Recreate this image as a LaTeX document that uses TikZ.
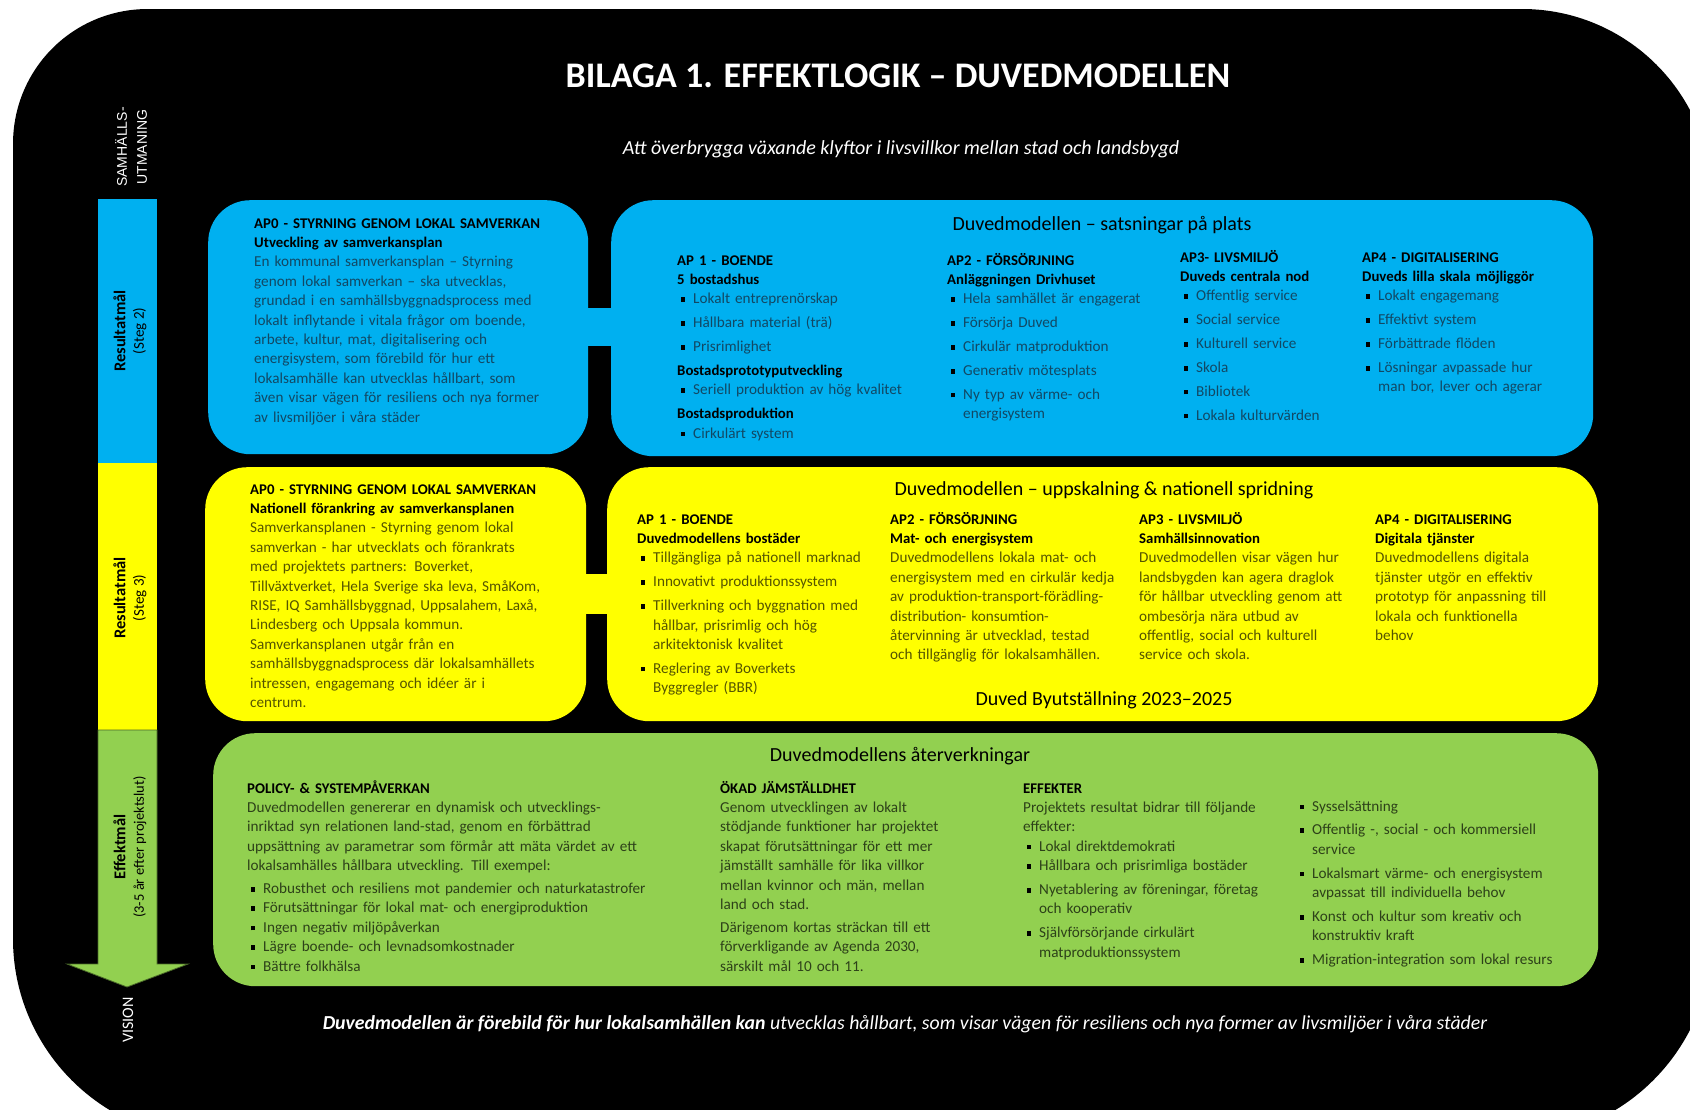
\documentclass[tikz,border=0pt]{standalone}
\usepackage{fontspec}
\setmainfont{Carlito}
\newfontfamily\widefont{Liberation Sans}
\usetikzlibrary{positioning}
\definecolor{apblue}{RGB}{0,176,240}
\definecolor{apyellow}{RGB}{255,255,0}
\definecolor{apgreen}{RGB}{146,208,80}
\definecolor{txtblue}{RGB}{18,72,100}
\definecolor{txtyellow}{RGB}{85,85,0}
\definecolor{txtgreen}{RGB}{45,65,25}
\newlength{\bli}\setlength{\bli}{16pt}
\newlength{\blsep}\setlength{\blsep}{4.5pt}
\newcommand{\hd}[1]{{\bfseries\fontsize{14.8}{19.4}\selectfont\color{black}#1}\par}
\newcommand{\bl}[2][\blsep]{\hangindent=\bli\hangafter=1\noindent\makebox[\bli][l]{\hspace{3.5pt}\textcolor{black}{\rule[2pt]{4.5pt}{4.5pt}}}#2\par\vspace{#1}}

\begin{document}
\begin{tikzpicture}[x=1pt,y=-1pt]
  \tikzstyle{box node}=[rectangle,rounded corners=42pt,anchor=north west,inner sep=0]
  \tikzstyle{text node}=[anchor=base west,inner sep=0,align=left,text width=440pt,font=\fontsize{15.2}{19.4}\selectfont]
  \tikzstyle{head node}=[anchor=base,inner sep=0,font=\fontsize{20}{24}\selectfont]
  \tikzstyle{side node}=[rotate=90,align=center,inner sep=0]
  \useasboundingbox (0,0) rectangle (1690,1109);
  \clip (0,0) rectangle (1690,1109);
  \fill[white] (0,0) rectangle (1690,1109);
  \fill[black] (13,144) .. controls (13,69) and (73,9) .. (148,9)
    -- (1522,9) .. controls (1627,9) and (1712,94) .. (1712,199)
    -- (1712,939) .. controls (1712,1049) and (1622,1139) .. (1512,1139)
    -- (213,1139) .. controls (103,1139) and (13,1049) .. (13,939) -- cycle;

  \node[anchor=base,text=white,font=\bfseries\fontsize{36}{42}\selectfont] (title) at (898,87)
    {BILAGA 1. EFFEKTLOGIK – DUVEDMODELLEN};
  \node[anchor=base,text=white,font=\itshape\fontsize{20}{24}\selectfont] (challenge) at (901,154)
    {Att överbrygga växande klyftor i livsvillkor mellan stad och landsbygd};
  \node[anchor=base,text=white,font=\itshape\fontsize{19.8}{24}\selectfont] (vision) at (905,1029)
    {{\bfseries Duvedmodellen är förebild för hur lokalsamhällen kan} utvecklas hållbart, som visar vägen för resiliens och nya former av livsmiljöer i våra städer};

  \fill[apblue] (98,199) rectangle (157,463);
  \fill[apyellow] (98,463) rectangle (157,730);
  \filldraw[fill=apgreen,draw=apgreen!50!black,line width=0.8pt] (98,730) -- (157,730) -- (157,964)
    -- (188,964) -- (127,987) -- (67,964) -- (98,964) -- cycle;
  \node[side node,text=white,font=\widefont\fontsize{14}{20}\selectfont] (utm) at (131,147) {SAMHÄLLS-\\UTMANING};
  \node[side node,font=\fontsize{15}{18.5}\selectfont] (steg2) at (130,331) {{\bfseries\fontsize{16.5}{18.5}\selectfont Resultatmål}\\(Steg 2)};
  \node[side node,font=\fontsize{15}{18.5}\selectfont] (steg3) at (130,598) {{\bfseries\fontsize{16.5}{18.5}\selectfont Resultatmål}\\(Steg 3)};
  \node[side node,font=\fontsize{14.5}{18.5}\selectfont] (effekt) at (130,847) {{\bfseries\fontsize{16.5}{18.5}\selectfont Effektmål}\\(3-5 år efter projektslut)};
  \node[side node,text=white,font=\fontsize{16}{18}\selectfont] (vis) at (128,1020) {VISION};

  \node[box node,fill=apblue,minimum width=380pt,minimum height=254pt] (b1l) at (208,200) {};
  \node[box node,fill=apblue,minimum width=982pt,minimum height=256pt] (b1r) at (611,200) {};
  \draw[apblue,line width=38pt] (b1l.east) -- (b1l.east -| b1r.west);
  \node[box node,fill=apyellow,minimum width=381pt,minimum height=254pt] (b2l) at (205,467) {};
  \node[box node,fill=apyellow,minimum width=991pt,minimum height=254pt] (b2r) at (607,467) {};
  \draw[apyellow,line width=40pt] (b2l.east) -- (b2l.east -| b2r.west);
  \node[box node,fill=apgreen,minimum width=1385pt,minimum height=253pt] (b3) at (213,733) {};

  \node[text node,text=txtblue] (t1l) at (254,228) {\hd{AP0 - STYRNING GENOM LOKAL SAMVERKAN}\hd{Utveckling av samverkansplan}%
    En kommunal samverkansplan – Styrning\\genom lokal samverkan – ska utvecklas,\\grundad i en samhällsbyggnadsprocess med\\%
    lokalt inflytande i vitala frågor om boende,\\arbete, kultur, mat, digitalisering och\\energisystem, som förebild för hur ett\\%
    lokalsamhälle kan utvecklas hållbart, som\\även visar vägen för resiliens och nya former\\av livsmiljöer i våra städer};
  \node[head node] (h1) at (1102,230) {Duvedmodellen – satsningar på plats};
  \node[text node,text=txtblue] (t11) at (677,265) {\hd{AP 1 - BOENDE}\hd{5 bostadshus}\bl{Lokalt entreprenörskap}%
    \bl{Hållbara material (trä)}\bl{Prisrimlighet}\hd{Bostadsprototyputveckling}\bl{Seriell produktion av hög kvalitet}%
    \hd{Bostadsproduktion}\bl{Cirkulärt system}};
  \node[text node,text=txtblue] (t12) at (947,265) {\hd{AP2 - FÖRSÖRJNING}\hd{Anläggningen Drivhuset}\bl{Hela samhället är engagerat}%
    \bl{Försörja Duved}\bl{Cirkulär matproduktion}\bl{Generativ mötesplats}\bl{Ny typ av värme- och\newline energisystem}};
  \node[text node,text=txtblue] (t13) at (1180,262) {\hd{AP3- LIVSMILJÖ}\hd{Duveds centrala nod}\bl{Offentlig service}%
    \bl{Social service}\bl{Kulturell service}\bl{Skola}\bl{Bibliotek}\bl{Lokala kulturvärden}};
  \node[text node,text=txtblue] (t14) at (1362,262) {\hd{AP4 - DIGITALISERING}\hd{Duveds lilla skala möjliggör}\bl{Lokalt engagemang}%
    \bl{Effektivt system}\bl{Förbättrade flöden}\bl{Lösningar avpassade hur\newline man bor, lever och agerar}};

  \node[text node,text=txtyellow] (t2l) at (250,494) {\hd{AP0 - STYRNING GENOM LOKAL SAMVERKAN}\hd{Nationell förankring av samverkansplanen}%
    Samverkansplanen - Styrning genom lokal\\samverkan - har utvecklats och förankrats\\med projektets partners: Boverket,\\%
    Tillväxtverket, Hela Sverige ska leva, SmåKom,\\RISE, IQ Samhällsbyggnad, Uppsalahem, Laxå,\\Lindesberg och Uppsala kommun.\\%
    Samverkansplanen utgår från en\\samhällsbyggnadsprocess där lokalsamhällets\\intressen, engagemang och idéer är i\\centrum.};
  \node[head node] (h2) at (1104,495) {Duvedmodellen – uppskalning \& nationell spridning};
  \node[head node] (h2b) at (1104,705) {Duved Byutställning 2023–2025};
  \node[text node,text=txtyellow] (t21) at (637,524) {\hd{AP 1 - BOENDE}\hd{Duvedmodellens bostäder}\bl{Tillgängliga på nationell marknad}%
    \bl{Innovativt produktionssystem}\bl{Tillverkning och byggnation med\newline hållbar, prisrimlig och hög\newline arkitektonisk kvalitet}%
    \bl{Reglering av Boverkets\newline Byggregler (BBR)}};
  \node[text node,text=txtyellow] (t22) at (890,524) {\hd{AP2 - FÖRSÖRJNING}\hd{Mat- och energisystem}%
    Duvedmodellens lokala mat- och\\energisystem med en cirkulär kedja\\av produktion-transport-förädling-\\distribution- konsumtion-\\%
    återvinning är utvecklad, testad\\och tillgänglig för lokalsamhällen.};
  \node[text node,text=txtyellow] (t23) at (1139,524) {\hd{AP3 - LIVSMILJÖ}\hd{Samhällsinnovation}%
    Duvedmodellen visar vägen hur\\landsbygden kan agera draglok\\för hållbar utveckling genom att\\ombesörja nära utbud av\\%
    offentlig, social och kulturell\\service och skola.};
  \node[text node,text=txtyellow] (t24) at (1375,524) {\hd{AP4 - DIGITALISERING}\hd{Digitala tjänster}%
    Duvedmodellens digitala\\tjänster utgör en effektiv\\prototyp för anpassning till\\lokala och funktionella\\behov};

  \node[head node] (h3) at (900,761) {Duvedmodellens återverkningar};
  \node[text node,text=txtgreen] (t31) at (247,793) {\hd{POLICY- \& SYSTEMPÅVERKAN}%
    Duvedmodellen genererar en dynamisk och utvecklings-\\inriktad syn relationen land-stad, genom en förbättrad\\%
    uppsättning av parametrar som förmår att mäta värdet av ett\\lokalsamhälles hållbara utveckling. Till exempel:\par\vspace{3.5pt}%
    \bl[0pt]{Robusthet och resiliens mot pandemier och naturkatastrofer}\bl[0pt]{Förutsättningar för lokal mat- och energiproduktion}%
    \bl[0pt]{Ingen negativ miljöpåverkan}\bl[0pt]{Lägre boende- och levnadsomkostnader}\bl[0pt]{Bättre folkhälsa}};
  \node[text node,text=txtgreen] (t32) at (720,793) {\hd{ÖKAD JÄMSTÄLLDHET}%
    Genom utvecklingen av lokalt\\stödjande funktioner har projektet\\skapat förutsättningar för ett mer\\jämställt samhälle för lika villkor\\%
    mellan kvinnor och män, mellan\\land och stad.\par\vspace{3.5pt}%
    Därigenom kortas sträckan till ett\\förverkligande av Agenda 2030,\\särskilt mål 10 och 11.};
  \node[text node,text=txtgreen] (t33) at (1023,793) {\hd{EFFEKTER}%
    Projektets resultat bidrar till följande\\effekter:\par
    \bl[0pt]{Lokal direktdemokrati}\bl{Hållbara och prisrimliga bostäder}\bl{Nyetablering av föreningar, företag\newline och kooperativ}%
    \bl{Självförsörjande cirkulärt\newline matproduktionssystem}};
  \node[text node,text=txtgreen] (t34) at (1296,811) {\bl{Sysselsättning}\bl{Offentlig -, social - och kommersiell\newline service}%
    \bl{Lokalsmart värme- och energisystem\newline avpassat till individuella behov}\bl{Konst och kultur som kreativ och\newline konstruktiv kraft}%
    \bl{Migration-integration som lokal resurs}};
\end{tikzpicture}
\end{document}
